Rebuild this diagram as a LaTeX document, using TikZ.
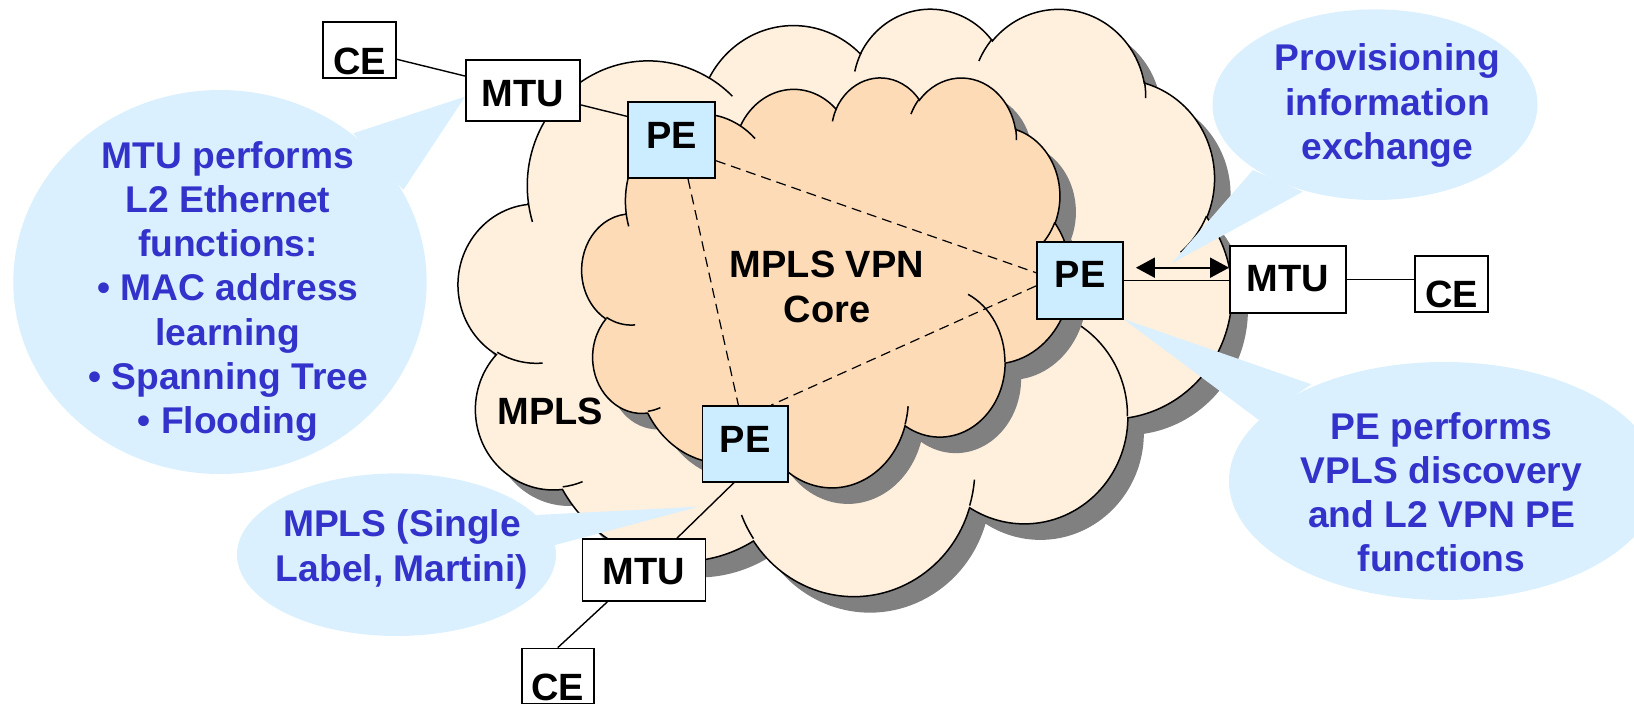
\documentclass[tikz,border=0pt]{standalone}
\usepackage{fontspec}
\setmainfont{Liberation Sans}
\usetikzlibrary{arrows.meta}

\definecolor{cloudlight}{HTML}{FFEFDD}
\definecolor{cloudcore}{HTML}{FDDBB7}
\definecolor{cloudshade}{HTML}{808080}
\definecolor{bubble}{HTML}{DBF0FE}
\definecolor{pefill}{HTML}{CCECFF}
\definecolor{notetext}{HTML}{3333CC}

\newcommand\lblfont{\bfseries\fontsize{19}{22.5}\selectfont}
\newcommand\notefont{\bfseries\fontsize{18.6}{22.15}\selectfont}
\newcommand\linestrut{\rule[-0.25em]{0pt}{1.05em}}

% Parametric start angle and sweep of an elliptic arc that is given by
% its visual start angle and visual sweep (cloud outline geometry).
\newcommand\setcarc[5]{%
  \pgfmathsetmacro\cTs{atan2((#2)*sin(#4),(#3)*cos(#4))}%
  \pgfmathsetmacro\cTe{atan2((#2)*sin((#4)+(#5)),(#3)*cos((#4)+(#5)))}%
  \pgfmathsetmacro\cTd{\cTe-\cTs}%
  \pgfmathsetmacro\cTd{ifthenelse((#5)>0,ifthenelse(\cTd<0,\cTd+360,\cTd),ifthenelse(\cTd>0,\cTd-360,\cTd))}%
  \expandafter\xdef\csname cloudS#1\endcsname{\cTs}%
  \expandafter\xdef\csname cloudD#1\endcsname{\cTd}%
}
% outline bumps
\setcarc{A}{6.753}{9.190}{-190.487483}{123.780533}
\setcarc{B}{5.333}{7.267}{-144.102383}{89.945233}
\setcarc{C}{4.365}{5.945}{-145.807917}{99.723017}
\setcarc{D}{4.857}{6.595}{-130.986067}{117.241733}
\setcarc{E}{5.333}{7.273}{-78.708883}{109.026917}
\setcarc{F}{6.775}{9.220}{-46.26725}{130.269}
\setcarc{G}{5.785}{7.867}{0.625017}{114.033333}
\setcarc{H}{6.752}{9.215}{22.4516}{115.17255}
\setcarc{I}{7.720}{10.543}{66.242633}{75.711017}
\setcarc{J}{4.360}{5.918}{-274.942083}{146.735567}
\setcarc{K}{4.345}{5.945}{-246.8285}{152.51885}
% inner creases
\setcarc{a}{4.345}{5.945}{86.742}{26.4295}
\setcarc{b}{4.360}{5.918}{73.61047}{11.44747}
\setcarc{c}{6.752}{9.215}{137.62415}{14.0811}
\setcarc{d}{6.752}{9.215}{6.45327}{15.99835}
\setcarc{e}{5.785}{7.867}{-70.29235}{70.91737}
\setcarc{f}{5.333}{7.273}{30.31803}{27.7515}
\setcarc{g}{4.857}{6.595}{-13.74433}{14.8589}
\setcarc{h}{4.857}{6.595}{-149.18145}{18.19537}
\setcarc{i}{4.365}{5.945}{-163.49427}{17.68635}
\setcarc{j}{6.753}{9.190}{-66.70695}{12.31935}
\setcarc{k}{6.753}{9.190}{157.65435}{11.85817}

% cloud outline in a 43.2 x 43.2 frame
\newcommand\cloudrim{%
  (3.9,14.37)
  arc[start angle=\cloudSA, delta angle=\cloudDA, x radius=6.753, y radius=9.19]
  arc[start angle=\cloudSB, delta angle=\cloudDB, x radius=5.333, y radius=7.267]
  arc[start angle=\cloudSC, delta angle=\cloudDC, x radius=4.365, y radius=5.945]
  arc[start angle=\cloudSD, delta angle=\cloudDD, x radius=4.857, y radius=6.595]
  arc[start angle=\cloudSE, delta angle=\cloudDE, x radius=5.333, y radius=7.273]
  arc[start angle=\cloudSF, delta angle=\cloudDF, x radius=6.775, y radius=9.22]
  arc[start angle=\cloudSG, delta angle=\cloudDG, x radius=5.785, y radius=7.867]
  arc[start angle=\cloudSH, delta angle=\cloudDH, x radius=6.752, y radius=9.215]
  arc[start angle=\cloudSI, delta angle=\cloudDI, x radius=7.72, y radius=10.543]
  arc[start angle=\cloudSJ, delta angle=\cloudDJ, x radius=4.36, y radius=5.918]
  arc[start angle=\cloudSK, delta angle=\cloudDK, x radius=4.345, y radius=5.945]
  -- cycle}
% short arcs where the bumps overlap
\newcommand\cloudcreases{%
  (4.693,26.177) arc[start angle=\cloudSa, delta angle=\cloudDa, x radius=4.345, y radius=5.945]
  (6.928,34.899) arc[start angle=\cloudSb, delta angle=\cloudDb, x radius=4.36, y radius=5.918]
  (16.478,39.09) arc[start angle=\cloudSc, delta angle=\cloudDc, x radius=6.752, y radius=9.215]
  (28.827,34.751) arc[start angle=\cloudSd, delta angle=\cloudDd, x radius=6.752, y radius=9.215]
  (34.129,22.954) arc[start angle=\cloudSe, delta angle=\cloudDe, x radius=5.785, y radius=7.867]
  (41.798,15.354) arc[start angle=\cloudSf, delta angle=\cloudDf, x radius=5.333, y radius=7.273]
  (38.324,5.426) arc[start angle=\cloudSg, delta angle=\cloudDg, x radius=4.857, y radius=6.595]
  (29.078,3.952) arc[start angle=\cloudSh, delta angle=\cloudDh, x radius=4.857, y radius=6.595]
  (22.141,4.72) arc[start angle=\cloudSi, delta angle=\cloudDi, x radius=4.365, y radius=5.945]
  (14.0,5.192) arc[start angle=\cloudSj, delta angle=\cloudDj, x radius=6.753, y radius=9.19]
  (4.127,15.789) arc[start angle=\cloudSk, delta angle=\cloudDk, x radius=6.753, y radius=9.19]}

\begin{document}
\begin{tikzpicture}[x=0.5pt, y=-0.5pt,
  rim/.style={line width=0.75pt},
  link/.style={line width=0.7pt},
  corelink/.style={line width=0.6pt, dash pattern=on 5pt off 3pt},
  netbox/.style={draw, line width=0.9pt, fill=white, inner sep=0pt, text depth=0pt, font=\lblfont},
  pebox/.style={netbox, fill=pefill},
  bubblefill/.style={fill=bubble},
  note/.style={font=\notefont, text=notetext, align=center, inner sep=0pt, anchor=north},
  biarrow/.style={line width=0.9pt, arrows={Triangle[length=9.5pt,width=10pt]-Triangle[length=9.5pt,width=10pt]}}]

\useasboundingbox (0,0) rectangle (1634,705);

% MPLS cloud with its drop shadow
\begin{scope}[shift={(474.6,23.3)}, x=8.9468pt, y=-6.7963pt]
  \fill[cloudshade] \cloudrim;
\end{scope}
\begin{scope}[shift={(458.6,7.3)}, x=8.9468pt, y=-6.7963pt]
  \filldraw[fill=cloudlight, rim] \cloudrim;
  \draw[rim] \cloudcreases;
\end{scope}
% VPN core cloud with its drop shadow
\begin{scope}[shift={(598,92.6)}, x=5.6563pt, y=-4.7431pt]
  \fill[cloudshade] \cloudrim;
\end{scope}
\begin{scope}[shift={(582,76.6)}, x=5.6563pt, y=-4.7431pt]
  \filldraw[fill=cloudcore, rim] \cloudrim;
  \draw[rim] \cloudcreases;
\end{scope}

\node[font=\lblfont, align=center, inner sep=0pt, anchor=north] (corelabel) at (827,246.6) {\linestrut MPLS VPN\\Core};
\node[font=\lblfont, inner sep=0pt, anchor=base] (mplslabel) at (550.5,425) {MPLS};

% callout bubbles
\fill[bubblefill] (220,282) ellipse [x radius=206.7, y radius=192];
\fill[bubblefill] (465,96.7) -- (353.3,133.3) -- (403.3,190) -- cycle;
\fill[bubblefill] (1375,104.7) ellipse [x radius=162.5, y radius=95.3];
\fill[bubblefill] (1171.7,263.3) -- (1252.9,170) -- (1302.9,191.7) -- cycle;
\fill[bubblefill] (1444,481) ellipse [x radius=215, y radius=119];
\fill[bubblefill] (1123.3,319) -- (1311.4,384.3) -- (1258.8,420) -- cycle;
\fill[bubblefill] (396.5,554.7) ellipse [x radius=159.5, y radius=81.3];
\fill[bubblefill] (698.8,506.7) -- (536.2,515) -- (555.3,545) -- cycle;

\node[note] (mtunote) at (228,137.9) {\linestrut MTU performs\\L2 Ethernet\\functions:\\• MAC address\\learning\\• Spanning Tree\\• Flooding};
\node[note] (provnote) at (1387.5,40.6) {\linestrut Provisioning\\information\\exchange};
\node[note] (penote) at (1441.5,408.9) {\linestrut PE performs\\VPLS discovery\\and L2 VPN PE\\functions};
\node[note] (mplsnote) at (402,506.6) {\linestrut MPLS (Single\\Label, Martini)};

% devices
\node[netbox, minimum width=36.5pt, minimum height=28pt, text height=25pt] (ce1) at (359.5,50) {CE};
\node[netbox, minimum width=57pt, minimum height=30.5pt, text height=16.2pt] (mtu1) at (523,90.5) {MTU};
\node[pebox, minimum width=43.5pt, minimum height=38pt, text height=8.3pt] (pe1) at (671.5,140) {PE};
\node[pebox, minimum width=43pt, minimum height=38.5pt, text height=7.5pt] (pe2) at (1080,280.5) {PE};
\node[netbox, minimum width=58pt, minimum height=33.5pt, text height=12.5pt] (mtu2) at (1288,279.5) {MTU};
\node[netbox, minimum width=36.5pt, minimum height=28pt, text height=24pt] (ce2) at (1451.5,284) {CE};
\node[pebox, minimum width=42.75pt, minimum height=37.85pt, text height=8.9pt] (pe3) at (745.2,443.8) {PE};
\node[netbox, minimum width=61.5pt, minimum height=31pt, text height=14pt] (mtu3) at (644,570) {MTU};
\node[netbox, minimum width=36.2pt, minimum height=27.5pt, text height=24.5pt] (ce3) at (557.8,676) {CE};

% pseudowire mesh between the PEs
\draw[corelink] (pe1.-25) -- (pe2.170);
\draw[corelink] (pe2.187) -- (pe3.56);
\draw[corelink] (pe1.-67) -- (pe3.100);

% access links
\draw[link] (ce1.-14) -- (mtu1.166);
\draw[link] (mtu1.-14) -- (pe1.152);
\draw[link] (pe2.east) -- (pe2.east -| mtu2.west);
\draw[link] (mtu2.east) -- (mtu2.east -| ce2.west);
\draw[link] (pe3.254) -- (mtu3.44);
\draw[link] (mtu3.221) -- (ce3.north);

% provisioning exchange
\coordinate (provleft) at ([xshift=6pt,yshift=6.4pt]pe2.east);
\draw[biarrow] (provleft) -- (provleft -| mtu2.west);

\end{tikzpicture}
\end{document}
